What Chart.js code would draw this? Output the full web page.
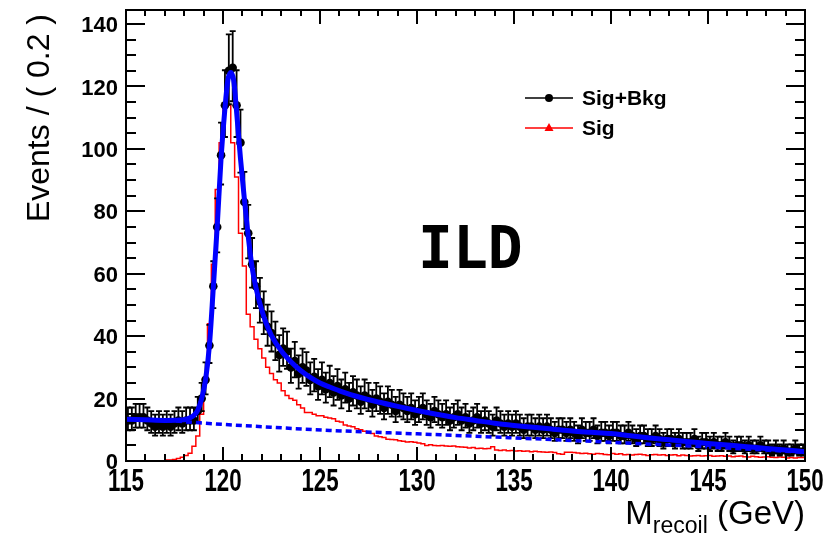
<!DOCTYPE html>
<html><head><meta charset="utf-8">
<style>html,body{margin:0;padding:0;background:#fff}#wrap{width:834px;height:538px;position:relative}</style>
<script src="https://cdn.jsdelivr.net/npm/chart.js@4"></script>
</head><body><div id="wrap"><canvas id="c" width="834" height="538"></canvas></div>
<script>
// ---- binning / axes ----
const binLow = 115, binWidth = 0.2;
const xRange = [115, 150];
const yRange = [0, 144.5];
const xTickLabels = [115, 120, 125, 130, 135, 140, 145, 150];
const yTickLabels = [0, 20, 40, 60, 80, 100, 120, 140];

// ---- Sig+Bkg data: events per 0.2 GeV bin (115.1 ... 149.9) ----
const dataCounts = [
 13,13,14,14,14,13,12,11,12,11,
 12,11,12,13,12,13,13,13,16,20,
 26,37,56,75,98,114,125,126,114,102,
 83,73,63,56,51,47,43,41,38,34,
 36,35,30,32,28,30,29,26,27,24,
 26,23,25,22,24,21,23,20,22,21,
 19,21,20,18,20,19,17,19,18,16,
 18,17,16,17,15,16,17,15,14,16,
 15,14,15,13,14,15,13,14,12,13,
 14,12,13,12,11,13,12,11,12,11,
 12,11,10,11,11,10,11,10,11,10,
 9,10,10,9,10,9,8,10,9,9,
 10,8,9,9,8,9,9,8,8,9,
 8,7,8,8,7,7,8,7,6,7,
 7,6,7,6,6,6,7,5,6,6,
 5,6,5,5,6,5,4,5,5,4,
 5,4,4,5,4,4,3,4,3,4,
 3,3,4,3,3
];

// ---- Sig histogram (red) per bin ----
const sigHist = [
 0,0,0,0,0,0,0,0,0,0,
 0,0.3,0.3,0.5,0.8,1.2,1.8,2.5,4.7,8,
 15,25.5,44,63,87,102,114,114,102,91,
 73,62.5,47,43,39,36,33,30,28,26,
 25,22.5,21,20,19.5,18,17,15.5,15.5,15,
 14.5,14.5,14,13.8,13.5,12.7,12.5,11.5,11.2,11,
 10.3,10,9.5,9,8.8,8,7.8,7.5,7,6.9,
 6.8,6.5,6.3,6.1,6.2,6.0,5.8,5.5,5.0,5.2,
 5.0,4.9,5.0,4.8,4.7,4.8,4.6,4.5,4.4,4.2,
 4.3,4.0,4.1,3.9,4.0,4.6,3.5,3.4,3.5,3.3,
 3.4,3.2,3.3,3.1,3.2,3.0,3.1,3.0,2.9,2.8,
 2.9,2.7,2.3,2.2,2.8,2.8,2.7,2.6,2.4,2.5,
 2.3,2.2,2.4,2.3,2.1,2.0,2.4,2.2,2.3,2.0,
 2.1,1.9,2.1,2.2,2.0,1.8,2.0,2.1,1.9,2.0,
 1.8,1.9,2.0,1.7,1.9,1.8,1.6,1.7,1.8,1.6,
 1.7,1.8,1.5,1.6,1.7,1.5,1.6,1.4,1.5,1.6,
 1.4,1.3,1.5,1.4,1.2,1.3,1.4,1.2,1.1,1.3,
 1.2,1.0,1.1,1.0,1.1
];

// ---- fitted total curve (blue solid) ----
const fitX = [115,116,117,117.8,118.2,118.5,118.7,118.9,119.1,119.3,119.5,119.7,119.9,120.1,120.25,120.4,120.55,120.7,120.9,121.1,121.3,121.5,121.7,121.9,122.2,122.5,123,123.5,124,124.5,125,125.5,126,127,128,129,130,131,132,133,134,135,136,137,138,139,140,141,142,143,144,145,146,147,148,149,150];
const fitY = [13.4,13.2,13.0,13.1,13.6,14.6,16.3,20,26,37,55.5,75,97,113,122,124.5,122,112,97,84,72,62,55.5,50.5,44.5,40.2,35.3,31.8,29,26.8,25,23.7,22.5,20.5,18.9,17.5,16.2,15,13.9,13,12.1,11.4,10.8,10.2,9.6,9.2,8.8,8.1,7.4,6.8,6.2,5.6,5.1,4.6,4.0,3.5,3.0];

// ---- background component (blue dotted) ----
const bkgX = [115,117,118.6,122,125.5,130,135,140,145,150];
const bkgY = [13.3,13.0,12.3,11.0,9.8,8.7,7.4,6.0,4.5,2.8];

// ---- legend / labels ----
const legendLabels = ['Sig+Bkg', 'Sig'];
const yTitle = 'Events / ( 0.2 )';
const xTitleMain = 'M', xTitleSub = 'recoil', xTitleUnit = ' (GeV)';
const expLabel = 'ILD';

// derived point lists
const binCenter = i => +(binLow + binWidth * (i + 0.5)).toFixed(2);
const dataPts = dataCounts.map((n, i) => ({x: binCenter(i), y: n}));
const sigPts = sigHist.map((v, i) => ({x: +(binLow + binWidth * i).toFixed(2), y: v}));
sigPts.push({x: xRange[1], y: sigHist[sigHist.length - 1]});
const fitPts = fitX.map((x, i) => ({x, y: fitY[i]}));
const bkgPts = bkgX.map((x, i) => ({x, y: bkgY[i]}));

function poisErr(n) {
  const s = Math.sqrt(n + 0.25);
  return [n + 0.5 - s, n + 0.5 + s];
}

const SANS = '"Liberation Sans", Arial, Helvetica, sans-serif';

const rootPlugin = {
  id: 'rootStyle',
  beforeDatasetDraw(chart, args) {
    if (args.index !== 2) return;
    const ctx = chart.ctx, xs = chart.scales.x, ys = chart.scales.y, a = chart.chartArea;
    ctx.save();
    ctx.beginPath(); ctx.rect(a.left, a.top, a.right - a.left, a.bottom - a.top); ctx.clip();
    ctx.strokeStyle = '#000'; ctx.lineWidth = 1.8;
    dataCounts.forEach((n, i) => {
      const [lo, hi] = poisErr(n);
      const px = xs.getPixelForValue(binCenter(i));
      const pyL = ys.getPixelForValue(lo), pyH = ys.getPixelForValue(hi), py = ys.getPixelForValue(n);
      const xl = xs.getPixelForValue(binLow + binWidth * i), xr = xs.getPixelForValue(binLow + binWidth * (i + 1));
      ctx.beginPath();
      ctx.moveTo(px, pyL); ctx.lineTo(px, pyH);
      ctx.moveTo(px - 3, pyH); ctx.lineTo(px + 3, pyH);
      ctx.moveTo(px - 3, pyL); ctx.lineTo(px + 3, pyL);
      ctx.moveTo(xl, py); ctx.lineTo(xr, py);
      ctx.stroke();
    });
    ctx.restore();
  },
  afterDraw(chart) {
    const ctx = chart.ctx, xs = chart.scales.x, ys = chart.scales.y, a = chart.chartArea;
    ctx.save();
    ctx.strokeStyle = '#000'; ctx.fillStyle = '#000';
    // ticks
    ctx.lineWidth = 2;
    ctx.beginPath();
    for (let v = xRange[0]; v <= xRange[1]; v += 1) {
      const px = Math.round(xs.getPixelForValue(v));
      const major = (v % 5 === 0);
      ctx.moveTo(px, a.bottom); ctx.lineTo(px, a.bottom - (major ? 14 : 7));
      ctx.moveTo(px, a.top); ctx.lineTo(px, a.top + (major ? 14 : 6));
    }
    for (let v = 0; v <= yRange[1]; v += 5) {
      const py = Math.round(ys.getPixelForValue(v));
      const major = (v % 20 === 0);
      ctx.moveTo(a.left, py); ctx.lineTo(a.left + (major ? 19 : 10), py);
      ctx.moveTo(a.right, py); ctx.lineTo(a.right - (major ? 19 : 10), py);
    }
    ctx.stroke();
    // frame
    ctx.lineWidth = 2;
    ctx.strokeRect(a.left, a.top, a.right - a.left, a.bottom - a.top);

    // y tick labels
    ctx.font = 'bold 22px ' + SANS;
    ctx.textAlign = 'right'; ctx.textBaseline = 'middle';
    yTickLabels.forEach(v => ctx.fillText(String(v), a.left - 8, ys.getPixelForValue(v) + 2));
    // x tick labels (condensed)
    xTickLabels.forEach(v => {
      ctx.save();
      ctx.translate(xs.getPixelForValue(v), 482);
      ctx.scale(0.72, 1);
      ctx.font = 'bold 31px ' + SANS;
      ctx.textAlign = 'center'; ctx.textBaseline = 'middle';
      ctx.fillText(String(v), 0, 0);
      ctx.restore();
    });
    // y title
    ctx.save();
    ctx.translate(40, 14);
    ctx.rotate(-Math.PI / 2);
    ctx.font = '32px ' + SANS;
    ctx.textAlign = 'right'; ctx.textBaseline = 'middle';
    ctx.fillText(yTitle, 0, 0);
    ctx.restore();
    // x title
    ctx.save();
    ctx.textBaseline = 'alphabetic'; ctx.textAlign = 'left';
    ctx.font = '33px ' + SANS;
    const wMain = ctx.measureText(xTitleMain).width, wUnit = ctx.measureText(xTitleUnit).width;
    ctx.font = '23px ' + SANS;
    const wSub = ctx.measureText(xTitleSub).width;
    let x0 = a.right - (wMain + wSub + wUnit);
    ctx.font = '33px ' + SANS; ctx.fillText(xTitleMain, x0, 524);
    ctx.font = '23px ' + SANS; ctx.fillText(xTitleSub, x0 + wMain, 533);
    ctx.font = '33px ' + SANS; ctx.fillText(xTitleUnit, x0 + wMain + wSub, 524);
    ctx.restore();

    // legend
    const lx0 = 525, lx1 = 573, lxm = 549, ly = [98, 128];
    ctx.lineWidth = 1.5;
    ctx.strokeStyle = '#000';
    ctx.beginPath(); ctx.moveTo(lx0, ly[0]); ctx.lineTo(lx1, ly[0]); ctx.stroke();
    ctx.beginPath(); ctx.arc(lxm, ly[0], 4, 0, Math.PI * 2); ctx.fill();
    ctx.strokeStyle = '#ff0000'; ctx.fillStyle = '#ff0000';
    ctx.beginPath(); ctx.moveTo(lx0, ly[1]); ctx.lineTo(lx1, ly[1]); ctx.stroke();
    ctx.beginPath(); ctx.moveTo(lxm, ly[1] - 5); ctx.lineTo(lxm + 4.5, ly[1] + 3); ctx.lineTo(lxm - 4.5, ly[1] + 3); ctx.closePath(); ctx.fill();
    ctx.fillStyle = '#000';
    ctx.font = 'bold 21px ' + SANS;
    ctx.textAlign = 'left'; ctx.textBaseline = 'middle';
    ctx.fillText(legendLabels[0], 582, ly[0] + 1);
    ctx.fillText(legendLabels[1], 582, ly[1] + 1);

    // experiment label
    ctx.font = 'bold 58px "DejaVu Sans Mono", monospace';
    ctx.textBaseline = 'alphabetic';
    ctx.fillText(expLabel, 418, 268);
    ctx.restore();
  }
};

new Chart(document.getElementById('c'), {
  type: 'scatter',
  data: {
    datasets: [
      { label: 'fit', data: fitPts, showLine: true, borderColor: '#0000ff', borderWidth: 5, pointRadius: 0, cubicInterpolationMode: 'monotone', fill: false },
      { label: 'bkg', data: bkgPts, showLine: true, borderColor: '#0000ff', borderWidth: 3.5, borderDash: [6, 4], pointRadius: 0, cubicInterpolationMode: 'monotone', fill: false },
      { label: legendLabels[0], data: dataPts, showLine: false, pointRadius: 4.3, pointBackgroundColor: '#000', pointBorderWidth: 0, borderColor: '#000' },
      { label: legendLabels[1], data: sigPts, showLine: true, stepped: 'after', borderColor: '#ff0000', borderWidth: 1.5, pointRadius: 0, fill: false }
    ]
  },
  options: {
    responsive: false, animation: false, maintainAspectRatio: false,
    devicePixelRatio: 1,
    layout: { padding: { left: 126, right: 29, top: 10, bottom: 77 } },
    plugins: { legend: { display: false }, tooltip: { enabled: false } },
    scales: {
      x: { type: 'linear', min: xRange[0], max: xRange[1], display: false },
      y: { type: 'linear', min: yRange[0], max: yRange[1], display: false }
    }
  },
  plugins: [rootPlugin]
});
</script>
</body></html>
